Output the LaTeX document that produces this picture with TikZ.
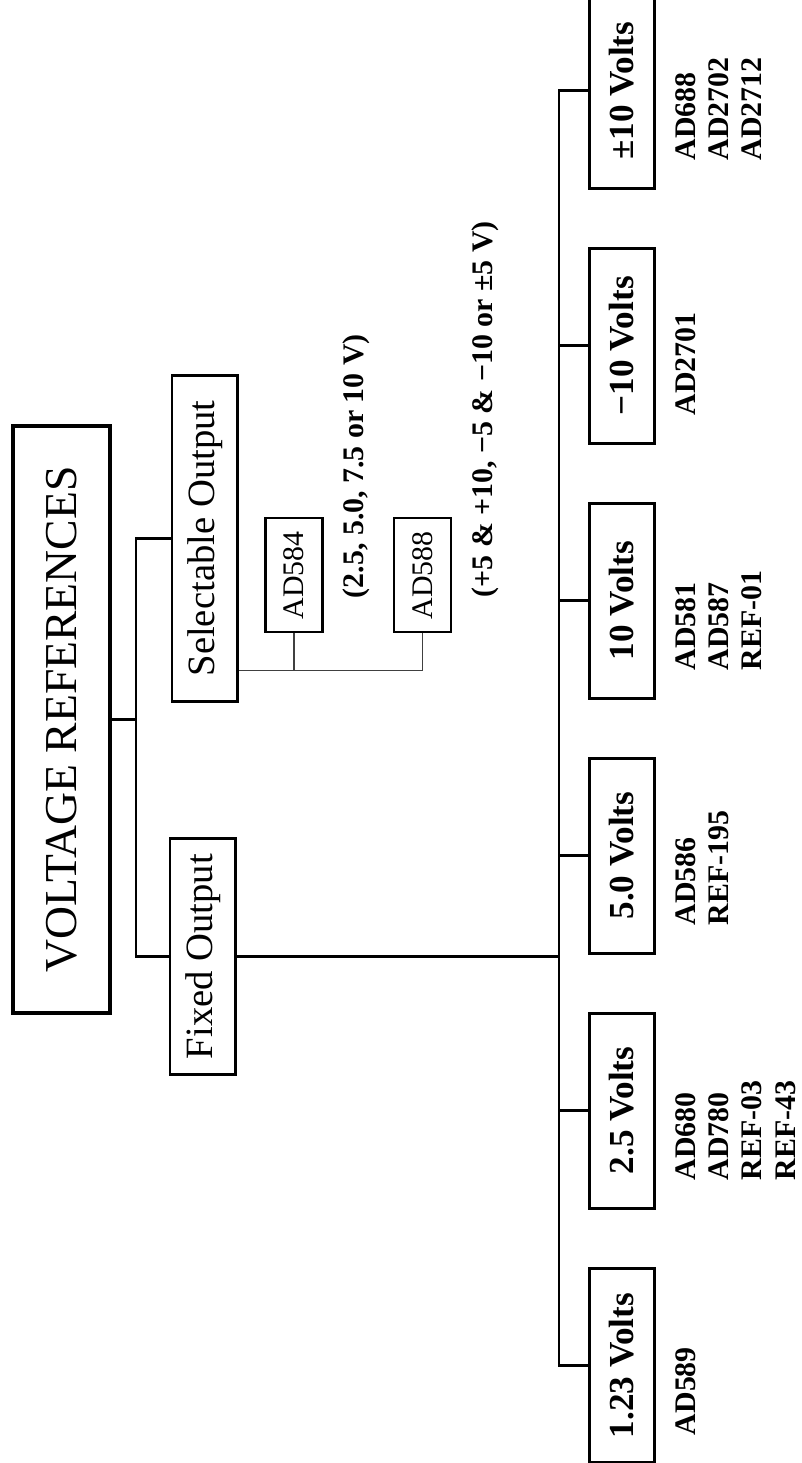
\documentclass[tikz,border=0pt]{standalone}
\usepackage{fontspec}
\setmainfont{Liberation Serif}
\usepackage{tikz}
\usetikzlibrary{positioning,calc}
\tikzset{
    headbox/.style={rectangle,draw,line width=2.4pt,minimum width=11.74cm,minimum height=1.94cm,inner sep=2pt,font=\fontsize{26}{30}\selectfont},
    groupbox/.style={rectangle,draw,line width=1.7pt,minimum height=1.32cm,inner sep=2pt,font=\fontsize{22}{26}\selectfont},
    voltbox/.style={rectangle,draw,line width=1.7pt,minimum width=3.9cm,minimum height=1.3cm,inner sep=2pt,font=\fontsize{20}{24}\selectfont\bfseries},
    partbox/.style={rectangle,draw,line width=1.4pt,minimum width=2.28cm,minimum height=1.14cm,inner sep=2pt,font=\fontsize{17}{20}\selectfont},
    partlist/.style={align=left,inner sep=0pt,font=\fontsize{17}{19}\selectfont\bfseries},
    note/.style={inner sep=0pt,font=\fontsize{17}{20}\selectfont\bfseries},
    wire/.style={line width=1.5pt},
    thinwire/.style={line width=0.8pt,black!75},
}

\begin{document}
\begin{tikzpicture}[rotate=90,transform shape,x=0.02cm,y=0.02cm]
\useasboundingbox (0,0) rectangle (1463,801);

% top of the tree
\node[headbox] (title) at (743.5,739.5) {VOLTAGE REFERENCES};
\node[groupbox,minimum width=4.74cm] (fixed) at (506.5,598) {Fixed Output};
\node[groupbox,minimum width=6.54cm] (sel) at (924.5,596) {Selectable Output};

% selectable parts
\node[partbox,below right=0.5cm and 1.4cm of sel.south west] (ad584) {AD584};
\node[partbox,below=1.38cm of ad584] (ad588) {AD588};
\node[note,anchor=base west] (d584) at ($(ad584.south west)+(35,-40)$) {(2.5, 5.0, 7.5 or 10 V)};
\node[note,anchor=base west] (d588) at ($(ad588.south west)+(36,-40)$) {(+5 \& +10, −5 \& −10 or ±5 V)};

% fixed outputs
\node[voltbox] (l1) at (97.5,179) {1.23 Volts};
\node[voltbox,right=1.14cm of l1] (l2) {2.5 Volts};
\node[voltbox,right=1.14cm of l2] (l3) {5.0 Volts};
\node[voltbox,right=1.14cm of l3] (l4) {10 Volts};
\node[voltbox,right=1.14cm of l4] (l5) {−10 Volts};
\node[voltbox,right=1.14cm of l5] (l6) {±10 Volts};

\node[partlist,below right=0.38cm and 0.58cm of l1.south west] (p1) {AD589};
\node[partlist,below right=0.38cm and 0.58cm of l2.south west] (p2) {AD680\\AD780\\REF-03\\REF-43};
\node[partlist,below right=0.38cm and 0.58cm of l3.south west] (p3) {AD586\\REF-195};
\node[partlist,below right=0.38cm and 0.58cm of l4.south west] (p4) {AD581\\AD587\\REF-01};
\node[partlist,below right=0.38cm and 0.58cm of l5.south west] (p5) {AD2701};
\node[partlist,below right=0.38cm and 0.58cm of l6.south west] (p6) {AD688\\AD2702\\AD2712};

% connectors
\coordinate (tjoin) at ($(title.south)+(0,-24)$);
\coordinate (bus) at ($(l1.north)+(0,29)$);
\coordinate (strunk) at ($(sel.south west)+(33,0)$);
\draw[wire] (title.south) -- (tjoin);
\draw[wire] (fixed.north) |- (tjoin) -| (sel.north);
\draw[wire] (l1.north) -- (bus) -| (l6.north);
\foreach \n in {l2,l3,l4,l5}
    \draw[wire] (\n.north) -- (\n.north |- bus);
\draw[wire] (fixed.south) -- (fixed.south |- bus);
\draw[thinwire] (strunk) |- (ad588.west);
\draw[thinwire] (ad584.west) -- (ad584.west -| strunk);
\end{tikzpicture}
\end{document}
